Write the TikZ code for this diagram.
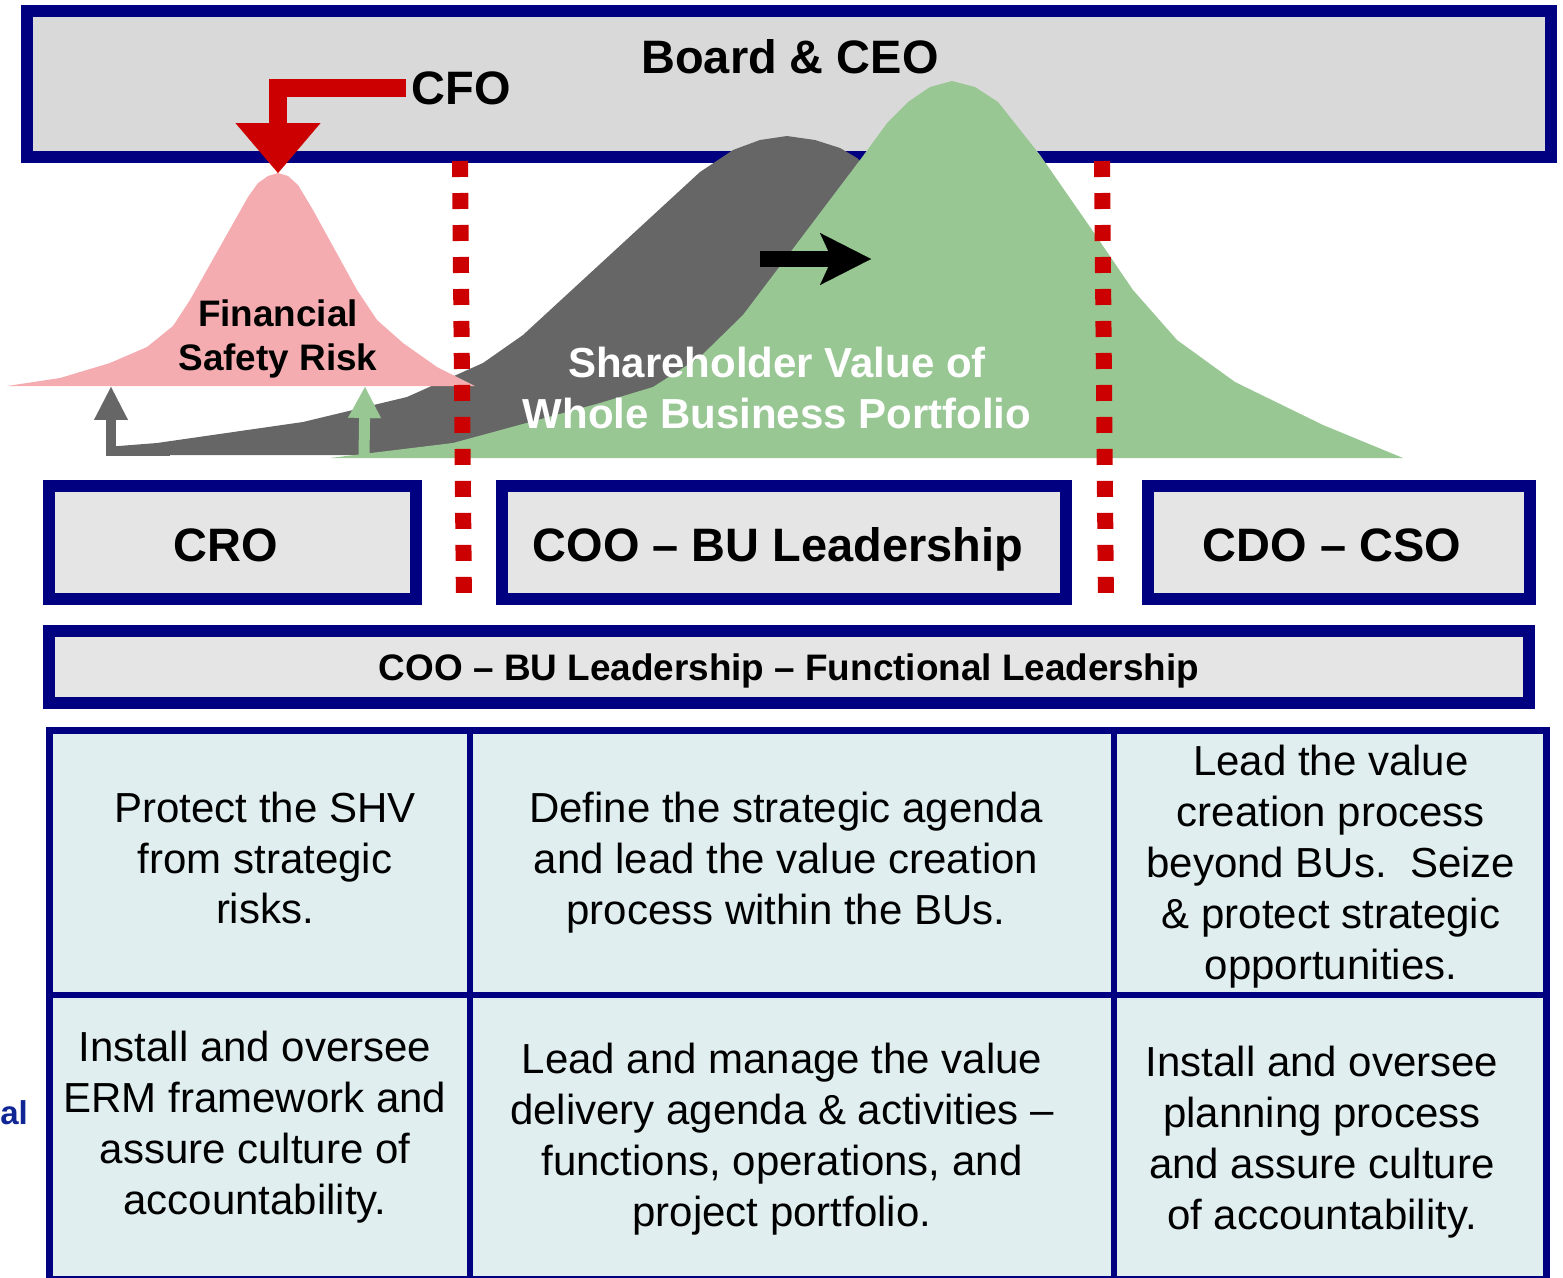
\documentclass[tikz,border=0pt]{standalone}
\usepackage{fontspec}
\setmainfont{Liberation Sans}
\usetikzlibrary{arrows.meta}

\definecolor{navy}{RGB}{0,0,128}
\definecolor{boardgray}{RGB}{217,217,217}
\definecolor{boxgray}{RGB}{229,229,229}
\definecolor{cellblue}{RGB}{224,238,240}
\definecolor{cfored}{RGB}{204,0,0}
\definecolor{riskpink}{RGB}{244,172,176}
\definecolor{valuegray}{RGB}{102,102,102}
\definecolor{valuegreen}{RGB}{152,199,148}
\definecolor{sideblue}{RGB}{16,38,148}

\begin{document}
\begin{tikzpicture}[x=0.02cm,y=-0.02cm]
\tikzstyle{every node}+=[inner sep=0pt]
\tikzstyle{rolebox}=[draw=navy,fill=boxgray,line width=0.24cm]
\tikzstyle{rolename}=[font=\bfseries\fontsize{26.7}{32}\selectfont]
\tikzstyle{celltext}=[align=center,font=\fontsize{23.9}{29}\selectfont]
\tikzstyle{divider}=[navy,line width=0.12cm]
\tikzstyle{fence}=[cfored,line width=0.32cm,dash pattern=on 0.32cm off 0.32cm]
\useasboundingbox (0,0) rectangle (1563,1278);

% board on top
\draw [draw=navy,fill=boardgray,line width=0.24cm] (27,11) rectangle (1551,157);
\node [rolename] (board) at (790,57) {Board \& CEO};

% value of the portfolio, before (grey) and after (green)
\fill [valuegray] (106,455) -- (106,447) -- (157,443) -- (303,422) -- (407,397) -- (483,363)
  -- (523,335) -- (700,172) -- (733,150) -- (760,140) -- (787,136) -- (815,140) -- (840,148)
  -- (857,158) -- (900,200) -- (950,300) -- (1000,455) -- cycle;
\coordinate (greytail) at (170,451);
\coordinate (greytip) at (111,387);
\draw [valuegray,line width=0.2cm,-{Triangle[length=0.66cm,width=0.68cm,line width=0.1pt]}] (greytail) -| (greytip);
\fill [valuegreen] (330,458) -- (453,443) -- (600,403) -- (653,387) -- (700,357) -- (743,315)
  -- (860,160) -- (888,122) -- (908,102) -- (930,87) -- (952,81) -- (975,87) -- (998,102)
  -- (1040,155) -- (1090,227) -- (1133,290) -- (1177,340) -- (1235,382) -- (1323,425)
  -- (1403,458) -- cycle;
\coordinate (greenfoot) at (364,457);
\coordinate (greentip) at (365,387);
\draw [valuegreen,line width=0.22cm,-{Triangle[length=0.62cm,width=0.66cm,line width=0.1pt]}] (greenfoot) -- (greentip);

% financial risk bell
\fill [riskpink] (7,386) -- (60,378) -- (110,363) -- (147,347) -- (173,326) -- (190,300)
  -- (248,197) -- (258,183) -- (268,176) -- (278,173) -- (288,176) -- (298,185) -- (313,210)
  -- (357,290) -- (377,320) -- (403,343) -- (437,367) -- (475,386) -- cycle;
\coordinate (riskpeak) at (278,173);
\node [align=center,font=\bfseries\fontsize{21}{25}\selectfont] (risk) at (278,339) {Financial\\Safety Risk};

% CFO arrow
\node [rolename] (cfo) at (461,88) {CFO};
\draw [cfored,line width=0.36cm,line join=miter,-{Triangle[length=1cm,width=1.7cm,line width=0.1pt]}] ([xshift=-0.1cm]cfo.west) -| (riskpeak);

% shift of the curve
\coordinate (shiftfrom) at (760,259);
\coordinate (shiftto) at (871,259);
\draw [black,line width=0.32cm,-{Stealth[length=1.02cm,width=1.04cm,inset=0.24cm,line width=0.1pt]}] (shiftfrom) -- (shiftto);
\node [align=center,text=white,font=\bfseries\fontsize{23.9}{28.5}\selectfont] (shv) at (777,388) {Shareholder Value of\\Whole Business Portfolio};

% dotted borders between the roles
\draw [fence] (460,161) -- (464,607);
\draw [fence] (1102,161) -- (1106,607);

% role boxes
\draw [rolebox] (49,486) rectangle (416,599);
\node [rolename] (cro) at (226,545) {CRO};
\draw [rolebox] (502,486) rectangle (1066,599);
\node [rolename] (coo) at (778,549) {COO -- BU Leadership};
\draw [rolebox] (1148,486) rectangle (1530,599);
\node [rolename] (cdo) at (1332,545) {CDO -- CSO};
\draw [rolebox] (49,631) rectangle (1529,703);
\node [font=\bfseries\fontsize{21}{25}\selectfont] (func) at (789,671) {COO -- BU Leadership -- Functional Leadership};

% table of tasks
\filldraw [fill=cellblue,draw=navy,line width=0.14cm] (49.5,730.5) rectangle (1546,1279.5);
\draw [divider] (470,731) -- (470,1280);
\draw [divider] (1114,731) -- (1114,1280);
\draw [divider] (50,994.5) -- (1546,994.5);
\node [celltext] (t11) at (265,858) {Protect the SHV\\from strategic\\risks.};
\node [celltext] (t12) at (786,863) {Define the strategic agenda\\and lead the value creation\\process within the BUs.};
\node [celltext] (t13) at (1331,867) {Lead the value\\creation process\\beyond BUs.\ \ Seize\\\& protect strategic\\opportunities.};
\node [celltext] (t21) at (255,1127) {Install and oversee\\ERM framework and\\assure culture of\\accountability.};
\node [celltext] (t22) at (782,1139) {Lead and manage the value\\delivery agenda \& activities --\\functions, operations, and\\project portfolio.};
\node [celltext] (t23) at (1322,1142) {Install and oversee\\planning process\\and assure culture\\of accountability.};

\node [anchor=base west,text=sideblue,font=\bfseries\fontsize{18.8}{22}\selectfont] (side) at (0,1124) {al};
\end{tikzpicture}
\end{document}
